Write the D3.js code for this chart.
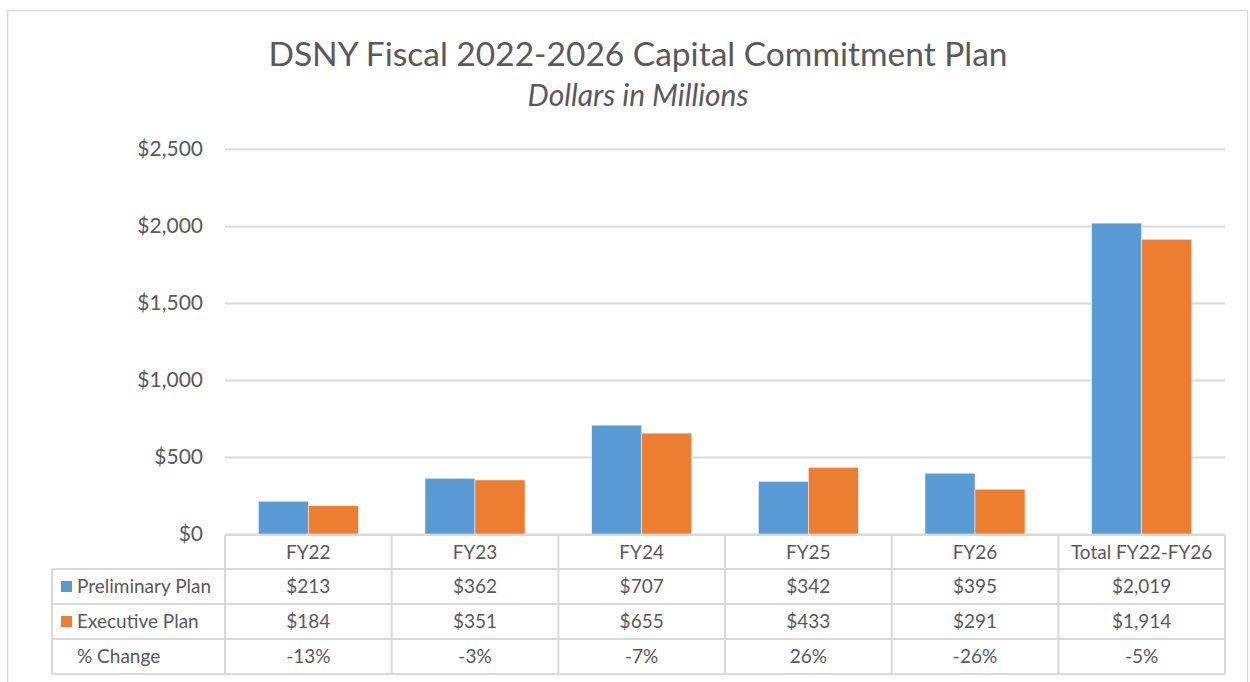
<!DOCTYPE html>
<html>
<head>
<meta charset="utf-8">
<script src="https://cdn.jsdelivr.net/npm/d3@7"></script>
<style>
  body { margin: 0; background: #fff; }
  svg { display: block; font-family: Lato, "Open Sans", sans-serif; }
</style>
</head>
<body>
<svg id="chart" width="1250" height="682"></svg>
<script>
// chart data
const categories = ['FY22', 'FY23', 'FY24', 'FY25', 'FY26', 'Total FY22-FY26'];
const seriesNames = ['Preliminary Plan', 'Executive Plan'];
const preliminary = [213, 362, 707, 342, 395, 2019];
const executive = [184, 351, 655, 433, 291, 1914];
const pctChange = ['-13%', '-3%', '-7%', '26%', '-26%', '-5%'];
const yTicks = [0, 500, 1000, 1500, 2000, 2500];

const colors = ['#5B9BD5', '#ED7D31'];
const textColor = '#595959';
const gridColor = '#D9D9D9';

const svg = d3.select('#chart');

// outer frame
svg.append('rect')
  .attr('x', 7.5).attr('y', 10.5)
  .attr('width', 1240).attr('height', 690)
  .attr('fill', 'none').attr('stroke', gridColor).attr('stroke-width', 1.5);

// titles
svg.append('text')
  .attr('x', 638).attr('y', 66)
  .attr('text-anchor', 'middle')
  .attr('font-size', 33.5).attr('fill', textColor)
  .text('DSNY Fiscal 2022-2026 Capital Commitment Plan');
svg.append('text')
  .attr('x', 638).attr('y', 106)
  .attr('text-anchor', 'middle')
  .attr('font-size', 30).attr('font-style', 'italic').attr('fill', textColor)
  .text('Dollars in Millions');

const plotLeft = 225, plotRight = 1225, plotTop = 149, plotBottom = 534;

const x = d3.scaleBand().domain(categories).range([plotLeft, plotRight]);
const xBar = d3.scaleBand().domain(seriesNames)
  .range([x.bandwidth() * 0.2, x.bandwidth() * 0.8]);
const y = d3.scaleLinear().domain([0, 2500]).range([plotBottom, plotTop]);

// gridlines + y labels
const yAxis = svg.append('g')
  .attr('transform', `translate(${plotLeft},0)`)
  .call(d3.axisLeft(y).tickValues(yTicks)
    .tickSize(-(plotRight - plotLeft))
    .tickPadding(22)
    .tickFormat(d => '$' + d3.format(',')(d)));
yAxis.select('.domain').remove();
yAxis.selectAll('.tick line').attr('stroke', gridColor).attr('stroke-width', 2);
yAxis.selectAll('.tick text')
  .attr('fill', textColor).attr('font-size', 21)
  .attr('font-family', 'Lato, sans-serif');

// bars
const rows = categories.map((c, i) => ({ cat: c, values: [preliminary[i], executive[i]] }));
const groups = svg.append('g').selectAll('g')
  .data(rows)
  .join('g')
  .attr('transform', d => `translate(${x(d.cat)},0)`);
groups.selectAll('rect')
  .data(d => d.values.map((v, j) => ({ name: seriesNames[j], v, j })))
  .join('rect')
  .attr('x', d => xBar(d.name))
  .attr('width', xBar.bandwidth())
  .attr('y', d => y(d.v))
  .attr('height', d => y(0) - y(d.v))
  .attr('fill', d => colors[d.j])
  .attr('stroke', '#fff').attr('stroke-width', 0.5);

// data table
const rowH = [34, 35, 35, 35];
const rowTop = [plotBottom + 1];
rowH.forEach((h, i) => rowTop.push(rowTop[i] + h));
const tableLeft = 52;
const table = svg.append('g');

function hline(x1, x2, yy) {
  table.append('line').attr('x1', x1).attr('x2', x2).attr('y1', yy).attr('y2', yy)
    .attr('stroke', gridColor).attr('stroke-width', 2);
}
function vline(xx, y1, y2) {
  table.append('line').attr('x1', xx).attr('x2', xx).attr('y1', y1).attr('y2', y2)
    .attr('stroke', gridColor).attr('stroke-width', 2);
}

hline(plotLeft, plotRight, rowTop[0]);
for (let i = 1; i < rowTop.length; i++) hline(tableLeft, plotRight, rowTop[i]);
vline(tableLeft, rowTop[1], rowTop[4]);
categories.forEach(c => vline(x(c), rowTop[0], rowTop[4]));
vline(plotRight, rowTop[0], rowTop[4]);

const cellText = (xx, yy, txt, anchor) => table.append('text')
  .attr('x', xx).attr('y', yy)
  .attr('dy', '0.35em')
  .attr('text-anchor', anchor || 'middle')
  .attr('font-size', 19).attr('fill', textColor)
  .text(txt);

const mid = i => (rowTop[i] + rowTop[i + 1]) / 2;
const fmt = v => '$' + d3.format(',')(v);

categories.forEach((c, i) => {
  const cx = x(c) + x.bandwidth() / 2;
  cellText(cx, mid(0), c);
  cellText(cx, mid(1), fmt(preliminary[i]));
  cellText(cx, mid(2), fmt(executive[i]));
  cellText(cx, mid(3), pctChange[i]);
});

// row headers with legend keys
seriesNames.forEach((name, j) => {
  table.append('rect')
    .attr('x', 61).attr('y', mid(j + 1) - 5.5)
    .attr('width', 11).attr('height', 11)
    .attr('fill', colors[j]);
  cellText(77, mid(j + 1), name, 'start');
});
cellText(77, mid(3), '% Change', 'start');
</script>
</body>
</html>
